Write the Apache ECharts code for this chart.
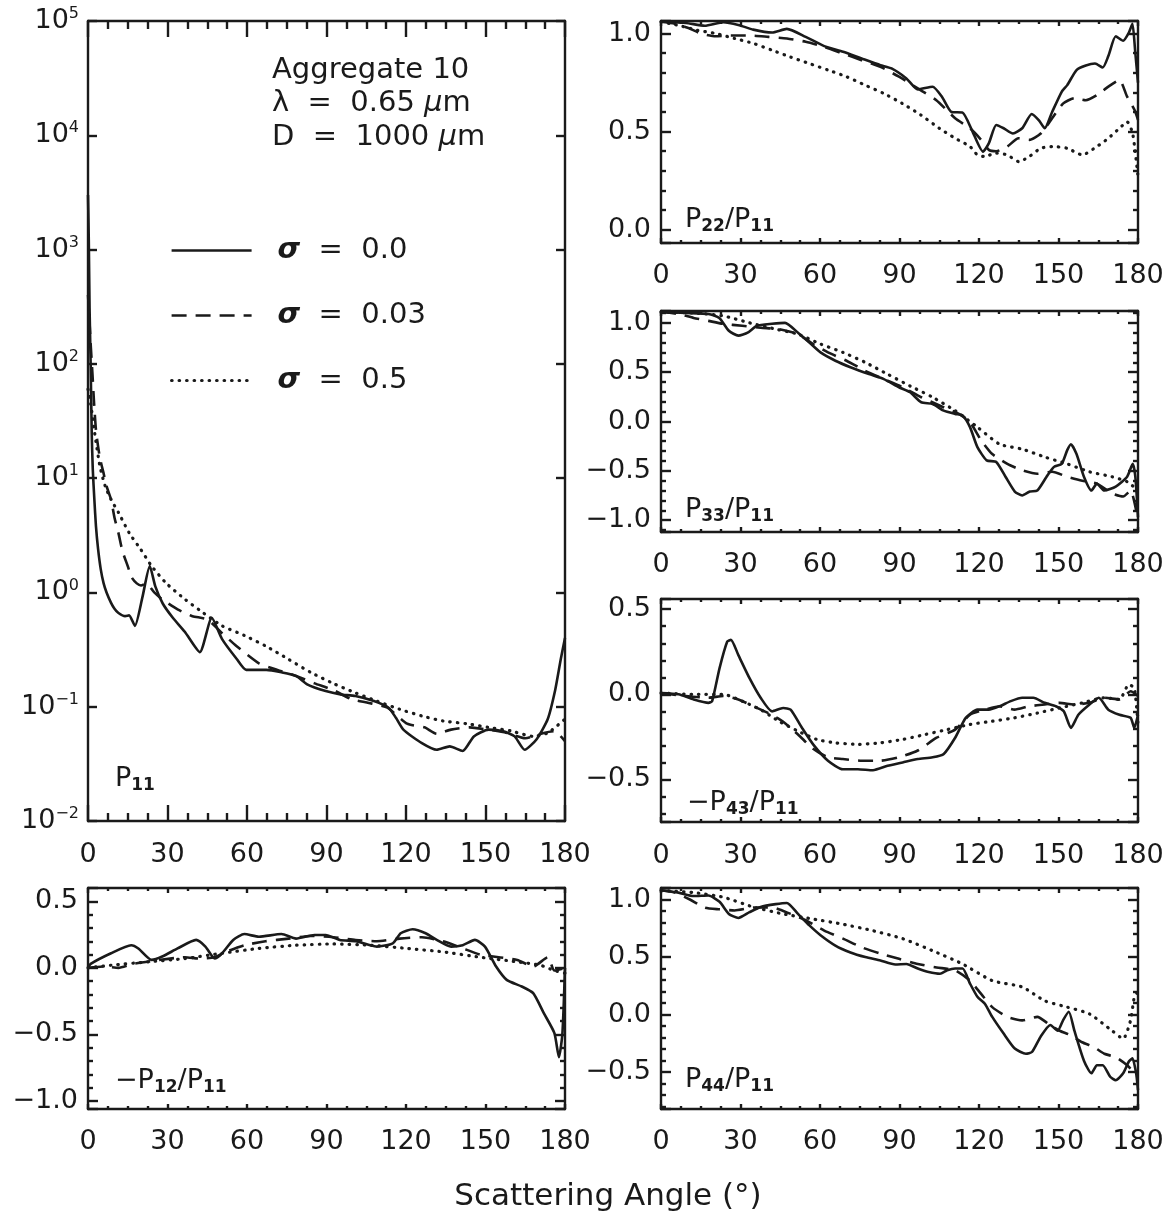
<!DOCTYPE html>
<html><head><meta charset="utf-8">
<script src="https://cdn.jsdelivr.net/npm/echarts/dist/echarts.min.js"></script>
<style>html,body{margin:0;padding:0;background:#fff;}#c{width:1168px;height:1227px;}</style>
</head><body><div id="c"></div>
<script>
// ---------- data (scattering angle in degrees, value) ----------
const ANGLE_TICKS = [0, 30, 60, 90, 120, 150, 180];
const SIGMA_NAMES = ['σ  =  0.0', 'σ  =  0.03', 'σ  =  0.5'];

const P11_S0 = [[0,3000],[0.3,1200],[0.6,300],[1,100],[1.4,25],[1.8,12],[2.4,6.5],[3,3.8],[3.8,2.4],[4.8,1.6],[5.9,1.2],[7,1.0],[8.7,0.81],[10,0.72],[11.5,0.66],[14,0.62],[15.5,0.63],[17.7,0.51],[20.5,0.9],[23.3,1.7],[25.4,1.13],[28.2,0.8],[32,0.6],[36.6,0.45],[42.2,0.30],[46.7,0.60],[50.6,0.39],[56.2,0.26],[59.7,0.21],[67.3,0.21],[73,0.20],[78.5,0.186],[82.7,0.157],[89.7,0.137],[95.3,0.128],[100.9,0.124],[107.9,0.112],[113.4,0.098],[116.2,0.080],[119,0.063],[126,0.048],[131.6,0.042],[136.5,0.045],[141.4,0.041],[145.6,0.055],[151.2,0.063],[156.7,0.061],[161,0.055],[164.8,0.042],[169.3,0.052],[173.5,0.078],[176.3,0.14],[178.4,0.26],[180,0.40]];
const P11_S003 = [[0,400],[0.5,250],[1,150],[1.7,80],[2.3,45],[3.1,25],[4.5,15],[5.9,11],[7,8.5],[8.7,6.5],[10,4.5],[11.5,3.3],[13,2.3],[15,1.7],[16.5,1.35],[18.4,1.2],[20,1.15],[22,1.2],[25,1.0],[28,0.87],[33.8,0.71],[39.4,0.62],[45,0.58],[50.6,0.44],[56,0.34],[64.5,0.24],[71.5,0.21],[78.5,0.186],[85.5,0.16],[92.5,0.14],[99.5,0.116],[106,0.108],[113,0.098],[120.4,0.071],[127,0.066],[131.6,0.058],[137,0.063],[144,0.066],[151,0.063],[158,0.059],[165,0.053],[172,0.059],[176,0.061],[180,0.05]];
const P11_S05 = [[0,60],[1,45],[2.5,25],[4.5,12.7],[6.5,8.5],[8.7,6.5],[11.5,5.0],[15.6,3.3],[19.8,2.4],[24,1.7],[29.6,1.2],[36.6,0.87],[43.6,0.66],[50.6,0.51],[59,0.42],[67,0.34],[75.7,0.26],[84,0.20],[92.5,0.16],[101,0.132],[109,0.112],[117.6,0.095],[126,0.083],[134,0.075],[142.8,0.071],[151,0.066],[159.5,0.0615],[168,0.055],[173.5,0.059],[180,0.078]];

const P12_S0 = [[0,0.0],[1,0.03],[8.7,0.11],[16.3,0.17],[19,0.146],[24,0.06],[28,0.085],[33.8,0.146],[40.8,0.21],[44.3,0.16],[47.8,0.07],[50.6,0.11],[54.8,0.21],[59,0.254],[64.5,0.234],[73,0.254],[78.5,0.22],[85.5,0.247],[89.7,0.247],[95,0.21],[101,0.2],[106.5,0.17],[109,0.16],[115,0.184],[118,0.26],[122.5,0.29],[127.4,0.26],[131.6,0.21],[137,0.16],[141.4,0.17],[146,0.21],[149.8,0.16],[154,0.01],[158,-0.09],[163.7,-0.14],[168,-0.19],[172,-0.34],[176,-0.49],[177.7,-0.67],[179,-0.5],[180,0.0]];
const P12_S003 = [[0,0],[5.9,0.01],[11.5,0.0],[17,0.03],[27,0.06],[36.6,0.08],[42,0.07],[47.8,0.08],[53.4,0.13],[59,0.17],[67,0.2],[75.7,0.22],[84,0.24],[92.5,0.23],[101,0.21],[109,0.2],[117.6,0.22],[126,0.23],[134,0.2],[141,0.15],[148,0.1],[155,0.08],[162,0.06],[168,0.01],[173.5,0.08],[176,-0.02],[180,0.0]];
const P12_S05 = [[0,0],[8.7,0.02],[22.6,0.045],[36.6,0.07],[50.6,0.11],[64.5,0.146],[78.5,0.17],[92.5,0.18],[106.5,0.17],[120.4,0.146],[134,0.12],[148,0.08],[162,0.045],[170.7,0.02],[176,-0.02],[180,-0.04]];

const P22_S0 = [[0,1.06],[9.4,1.054],[16.5,1.04],[23.5,1.058],[29.2,1.044],[34.8,1.02],[41.9,1.005],[47.5,1.024],[54.6,0.983],[61.6,0.936],[68.7,0.907],[75.7,0.873],[82.8,0.839],[87,0.822],[92.6,0.771],[96.9,0.715],[102.5,0.729],[106,0.678],[109.6,0.60],[113.8,0.597],[117.3,0.508],[121.5,0.398],[123.7,0.44],[126.5,0.534],[129.3,0.517],[132.8,0.49],[136.3,0.517],[139.9,0.59],[142.7,0.556],[144.8,0.517],[147.6,0.60],[151.2,0.703],[153.3,0.737],[156.8,0.814],[160.3,0.837],[163.8,0.847],[166.7,0.827],[168.8,0.885],[171.6,0.986],[174.4,0.963],[176.5,1.003],[177.9,1.05],[178.9,0.915],[180,0.75]];
const P22_S003 = [[0,1.06],[5.2,1.05],[10.9,1.025],[15,1.0],[20.7,0.986],[26.4,0.99],[33.4,0.99],[40.5,0.983],[47.5,0.975],[54.6,0.958],[61.6,0.932],[68.7,0.898],[75.7,0.864],[82.8,0.83],[89.8,0.78],[96.9,0.72],[103.9,0.66],[111,0.568],[116.6,0.517],[120.8,0.458],[123.7,0.407],[126.5,0.40],[130.7,0.424],[134.9,0.466],[139,0.458],[143.3,0.49],[147.6,0.568],[151.8,0.644],[156,0.67],[160.3,0.66],[164.5,0.686],[168.8,0.729],[173,0.763],[175.9,0.678],[178.7,0.61],[180,0.56]];
const P22_S05 = [[0,1.06],[6.6,1.042],[13.7,1.017],[20.7,1.0],[27.8,0.975],[34.8,0.95],[41.9,0.915],[48.9,0.88],[56,0.847],[63,0.814],[70,0.78],[77,0.737],[84,0.695],[91,0.644],[98,0.585],[105,0.517],[111,0.466],[116.6,0.424],[119.4,0.381],[122,0.373],[126.5,0.39],[130.7,0.381],[135,0.347],[139,0.373],[143.3,0.415],[147.6,0.424],[153.3,0.415],[159,0.381],[164.5,0.424],[168.8,0.466],[173,0.517],[175.9,0.55],[178,0.49],[180,0.27]];

const P33_S0 = [[0,1.11],[9.4,1.10],[17.9,1.09],[22,1.05],[25.6,0.92],[29.2,0.87],[32.7,0.90],[36.2,0.97],[41.9,0.99],[46.8,1.0],[51.7,0.90],[56,0.80],[60.2,0.70],[65.8,0.616],[71.5,0.55],[78.5,0.48],[84.1,0.43],[89.8,0.347],[94,0.296],[98.2,0.195],[102.5,0.178],[106.7,0.11],[111,0.077],[113.8,0.06],[116.6,-0.057],[119.4,-0.26],[122.9,-0.394],[126.5,-0.41],[130,-0.56],[133.5,-0.71],[136.3,-0.75],[139.2,-0.71],[142,-0.70],[145.5,-0.56],[148.3,-0.46],[151.2,-0.43],[153.3,-0.29],[154.7,-0.23],[156.8,-0.33],[159.6,-0.56],[162.4,-0.70],[164.5,-0.63],[167.3,-0.70],[171.6,-0.66],[175.9,-0.56],[178,-0.43],[179,-0.56],[180,-0.97]];
const P33_S003 = [[0,1.11],[6.6,1.09],[12.3,1.05],[17.9,1.02],[23.5,0.99],[30.6,0.97],[37.6,0.95],[44.7,0.936],[51.7,0.885],[57.4,0.785],[63,0.70],[70,0.616],[77,0.515],[84.1,0.43],[91.2,0.347],[98.2,0.246],[105.3,0.16],[112.4,0.077],[116.6,-0.007],[120.8,-0.19],[125,-0.33],[130.7,-0.43],[136.3,-0.495],[142,-0.53],[147.6,-0.51],[153.3,-0.56],[159,-0.60],[164.5,-0.63],[170.2,-0.73],[174.4,-0.76],[177.2,-0.70],[180,-1.0]];
const P33_S05 = [[0,1.11],[12.3,1.10],[23.5,1.07],[33.4,1.0],[43.3,0.936],[51.7,0.885],[60.2,0.785],[68.7,0.70],[77,0.60],[85.5,0.48],[94,0.36],[102.5,0.246],[111,0.11],[119.4,-0.057],[127.8,-0.23],[136.3,-0.28],[144.8,-0.36],[153.3,-0.43],[161.7,-0.51],[170.2,-0.56],[175.9,-0.61],[180,-0.70]];

const P43_S0 = [[0,0.008],[6.6,0.0],[12.3,-0.03],[17.9,-0.05],[19.3,-0.04],[22.1,0.154],[25,0.31],[26.4,0.32],[29.2,0.23],[33.4,0.095],[37.6,-0.02],[41.9,-0.10],[46.1,-0.08],[48.9,-0.09],[53.2,-0.197],[57.4,-0.294],[63,-0.39],[68.6,-0.44],[74.3,-0.44],[80,-0.446],[85.5,-0.42],[91.2,-0.40],[96.9,-0.38],[102.5,-0.37],[106.7,-0.35],[111,-0.255],[115,-0.138],[119.4,-0.09],[123.7,-0.09],[127.8,-0.07],[132,-0.04],[136.3,-0.02],[140.5,-0.02],[144.8,-0.05],[149,-0.07],[152,-0.10],[154.7,-0.197],[157.5,-0.12],[161.7,-0.06],[165.2,-0.02],[168.8,-0.09],[173,-0.12],[177.2,-0.138],[178.6,-0.197],[180,-0.12]];
const P43_S003 = [[0,0.008],[9.4,-0.01],[17.9,-0.02],[23.5,-0.01],[29.2,-0.03],[34.8,-0.07],[40.5,-0.11],[46,-0.16],[51.7,-0.236],[57.4,-0.32],[63,-0.37],[68.6,-0.38],[75.7,-0.39],[82.7,-0.39],[89.8,-0.37],[96.9,-0.33],[104,-0.255],[111,-0.207],[116.6,-0.12],[122.3,-0.09],[127.8,-0.07],[133.4,-0.09],[139,-0.07],[144.8,-0.06],[150.4,-0.05],[156,-0.06],[161.7,-0.05],[167.3,-0.02],[173,-0.03],[177.2,0.018],[180,-0.01]];
const P43_S05 = [[0,0.008],[12.3,0.0],[23.5,0.0],[30.6,-0.04],[37.6,-0.09],[44.7,-0.16],[51.7,-0.216],[58.8,-0.265],[65.8,-0.285],[74.3,-0.294],[82.8,-0.285],[91.2,-0.265],[99.7,-0.236],[108,-0.207],[116.6,-0.177],[125,-0.158],[133.4,-0.138],[142,-0.11],[150.4,-0.08],[159,-0.05],[167.3,-0.02],[173,-0.03],[176.5,0.057],[178.6,0.037],[180,-0.177]];

const P44_S0 = [[0,1.08],[6.6,1.06],[12.3,1.03],[17.9,1.035],[22.1,0.98],[25.6,0.875],[29.2,0.84],[33.4,0.89],[37.6,0.935],[43.3,0.96],[47.5,0.97],[51.7,0.875],[56,0.775],[60.2,0.69],[65.8,0.60],[71.5,0.54],[77.1,0.50],[82.8,0.47],[88.4,0.435],[92.6,0.44],[96.9,0.40],[101,0.37],[105.3,0.355],[108,0.385],[111,0.40],[113.8,0.40],[116.6,0.27],[119.4,0.155],[122.2,0.095],[125,-0.02],[129.3,-0.165],[133.5,-0.295],[137.7,-0.34],[140,-0.325],[143.3,-0.19],[146.9,-0.09],[149.7,-0.14],[151.8,-0.045],[153.9,0.025],[156,-0.14],[159.6,-0.40],[162.4,-0.51],[164.5,-0.44],[166.7,-0.44],[169.5,-0.54],[171.6,-0.57],[174.4,-0.51],[176.5,-0.41],[177.9,-0.38],[179.3,-0.51],[180,-0.655]];
const P44_S003 = [[0,1.08],[5.2,1.06],[10.9,1.0],[16.5,0.93],[22,0.915],[27.8,0.905],[34.8,0.93],[41.9,0.93],[48.9,0.875],[54.6,0.82],[61.6,0.73],[68.7,0.66],[75.7,0.585],[82.8,0.53],[89.8,0.485],[96.9,0.44],[104,0.41],[111,0.385],[116.6,0.295],[120.8,0.18],[125,0.065],[130.7,-0.02],[136.3,-0.05],[142,-0.02],[146.2,-0.08],[150.4,-0.14],[154.7,-0.18],[158.9,-0.24],[163.2,-0.28],[167.3,-0.34],[171.6,-0.37],[175.9,-0.44],[180,-0.54]];
const P44_S05 = [[0,1.08],[12.3,1.06],[23.5,1.02],[34.8,0.935],[46,0.875],[57.4,0.83],[68.7,0.785],[79.8,0.73],[91.2,0.66],[102.5,0.555],[113.8,0.44],[125,0.295],[136.3,0.24],[144.8,0.12],[153.3,0.065],[161.7,0.006],[170.2,-0.14],[174.4,-0.21],[177.2,-0.05],[178.6,0.15],[180,0.2]];

// ---------- layout & style ----------
const FONT = 'DejaVu Sans';
const INK = '#1a1a1a';
const TICK_FS = 27;

const PANELS = [
  {data:[P11_S0,P11_S003,P11_S05], log:true, min:0.01, max:100000, split:7, box:[88,21,477,800], xt:[16,8], yt:[9,0], xm:20,
   label:'{p|P}{s|11}', lx:115, ly:779},
  {data:[P12_S0,P12_S003,P12_S05], min:-1.06, max:0.6, split:3, box:[88,888,477,221], xt:[5,3], yt:[10,5], xm:19,
   label:'{p|−P}{s|12}{p|/P}{s|11}', lx:115, ly:1081},
  {data:[P22_S0,P22_S003,P22_S05], min:-0.068, max:1.064, split:2, box:[661,21,477,222], xt:[5,3], yt:[10,5], xm:19,
   label:'{p|P}{s|22}{p|/P}{s|11}', lx:685, ly:220},
  {data:[P33_S0,P33_S003,P33_S05], min:-1.12, max:1.12, split:4, box:[661,311,477,221], xt:[5,3], yt:[10,5], xm:19,
   label:'{p|P}{s|33}{p|/P}{s|11}', lx:685, ly:510},
  {data:[P43_S0,P43_S003,P43_S05], min:-0.75, max:0.56, split:2, box:[661,599,477,223], xt:[5,3], yt:[10,5], xm:20,
   label:'{p|−P}{s|43}{p|/P}{s|11}', lx:687, ly:803},
  {data:[P44_S0,P44_S003,P44_S05], min:-0.82, max:1.1, split:3, box:[661,888,477,221], xt:[5,3], yt:[10,5], xm:19,
   label:'{p|P}{s|44}{p|/P}{s|11}', lx:685, ly:1080}
];

const LINE_STYLES = [
  {width:2.6, type:'solid', cap:'butt'},
  {width:2.6, type:[15,9], cap:'butt'},
  {width:3.2, type:[0.5,7], cap:'round'}
];

function linFmt(v){
  if (Math.abs(v*2 - Math.round(v*2)) > 1e-6) return '';
  const s = Math.abs(v).toFixed(1);
  return (v < -1e-9 ? '−' : '') + s;
}
function logFmt(v){
  const e = Math.round(Math.log10(v));
  return '{b|10}{e|' + (e < 0 ? '−' : '') + Math.abs(e) + '}';
}

const grid = [], xAxis = [], yAxis = [], series = [], graphic = [];
function tl(){ return {color:INK, width:2.4}; }

PANELS.forEach((p, i) => {
  grid.push({left:p.box[0], top:p.box[1], width:p.box[2], height:p.box[3], containLabel:false, show:false});
  const mkX = (pos, withLabel) => ({type:'value', gridIndex:i, min:0, max:180, interval:30, position:pos,
    axisLine:{show:true, onZero:false, lineStyle:{color:INK, width:2.4}},
    axisTick:{show:true, inside:true, length:p.xt[0], lineStyle:tl()},
    minorTick:{show:true, splitNumber:4, length:p.xt[1], lineStyle:tl()},
    splitLine:{show:false}, minorSplitLine:{show:false},
    axisLabel: withLabel
      ? {show:true, customValues:ANGLE_TICKS, margin:p.xm, fontFamily:FONT, fontSize:TICK_FS, color:INK, formatter:v=>String(Math.round(v))}
      : {show:false}});
  xAxis.push(mkX('bottom', true));
  xAxis.push(mkX('top', false));

  const mkY = (pos, withLabel) => {
    const a = {type:p.log?'log':'value', gridIndex:i, min:p.min, max:p.max, splitNumber:p.split, position:pos,
      axisLine:{show:true, onZero:false, lineStyle:{color:INK, width:2.4}},
      axisTick:{show:true, inside:true, length:p.yt[0], lineStyle:tl()},
      minorTick:{show:!p.log, splitNumber:5, length:p.yt[1], lineStyle:tl()},
      splitLine:{show:false}, minorSplitLine:{show:false}};
    if (p.log) a.logBase = 10;
    a.axisLabel = !withLabel ? {show:false} : (p.log
      ? {show:true, margin:9, formatter:logFmt, color:INK, fontFamily:FONT,
         rich:{b:{fontSize:TICK_FS, fontFamily:FONT, color:INK}, e:{fontSize:16, fontFamily:FONT, color:INK, padding:[0,0,14,0]}}}
      : {show:true, margin:10, formatter:linFmt, fontFamily:FONT, fontSize:TICK_FS, color:INK});
    return a;
  };
  yAxis.push(mkY('left', true));
  yAxis.push(mkY('right', false));

  p.data.forEach((d, k) => {
    const ls = LINE_STYLES[k];
    series.push({type:'line', name:SIGMA_NAMES[k], xAxisIndex:2*i, yAxisIndex:2*i, data:d,
      symbol:'none', showSymbol:false, smooth:0.2, clip:true, animation:false,
      lineStyle:{color:INK, width:ls.width, type:ls.type, cap:ls.cap, join:'round'},
      itemStyle:{color:INK}, emphasis:{disabled:true}});
  });

  graphic.push({type:'text', x:p.lx, y:p.ly, silent:true, style:{text:p.label, fill:INK, align:'left', verticalAlign:'middle',
    rich:{p:{fontSize:27, fontFamily:FONT, fill:INK, color:INK},
          s:{fontSize:17, fontWeight:'bold', fontFamily:FONT, fill:INK, color:INK, padding:[13,0,0,0]}}}});
});

const ANNOT = ['Aggregate 10', 'λ  =  0.65 {i|μ}m', 'D  =  1000 {i|μ}m'];
const ANNOT_Y = [70, 103, 137];
ANNOT.forEach((t, j) => {
  graphic.push({type:'text', x:272, y:ANNOT_Y[j], silent:true, style:{text:t, fill:INK, fontSize:29, fontFamily:FONT,
    align:'left', verticalAlign:'middle', rich:{i:{fontStyle:'italic', fontSize:29, fontFamily:FONT, fill:INK, color:INK}}}});
});
graphic.push({type:'text', x:608, y:1197, silent:true, style:{text:'Scattering Angle (°)', fill:INK, fontSize:31, fontFamily:FONT,
  align:'center', verticalAlign:'middle'}});

const chart = echarts.init(document.getElementById('c'), null, {renderer:'canvas', width:1168, height:1227});
chart.setOption({
  animation:false,
  backgroundColor:'#ffffff',
  textStyle:{fontFamily:FONT, color:INK},
  grid, xAxis, yAxis, series, graphic,
  legend:{show:true, orient:'vertical', left:165, top:231, itemWidth:80, itemHeight:14, itemGap:36,
    data:SIGMA_NAMES, selectedMode:false,
    itemStyle:{opacity:0},
    lineStyle:{width:'inherit', cap:'inherit', type:'inherit'},
    formatter:n => '{s|σ}{t|' + n.slice(1) + '}',
    textStyle:{color:INK, fontFamily:FONT, fontSize:29,
      rich:{s:{fontSize:29, fontWeight:'bold', fontStyle:'italic', fontFamily:FONT, color:INK, padding:[0,0,0,21]},
            t:{fontSize:29, fontFamily:FONT, color:INK}}}}
});
</script></body></html>
